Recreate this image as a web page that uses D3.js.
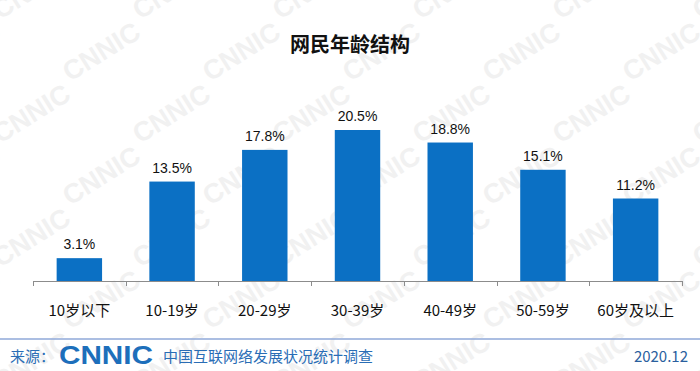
<!DOCTYPE html>
<html>
<head>
<meta charset="utf-8">
<script src="https://cdn.jsdelivr.net/npm/d3@7"></script>
<style>
  body { margin: 0; background: #fff; }
  svg { display: block; font-family: "Liberation Sans", Arial, "Noto Sans CJK SC", sans-serif; }
</style>
</head>
<body>
<div id="chart"></div>
<script>
// chart data
const categories = ["10岁以下", "10-19岁", "20-29岁", "30-39岁", "40-49岁", "50-59岁", "60岁及以上"];
const shares = [3.1, 13.5, 17.8, 20.5, 18.8, 15.1, 11.2];
const valueLabels = ["3.1%", "13.5%", "17.8%", "20.5%", "18.8%", "15.1%", "11.2%"];

const width = 700, height = 371;
const plot = {left: 33, right: 682, baseline: 281};

const svg = d3.select("#chart").append("svg")
    .attr("width", width)
    .attr("height", height);

svg.append("rect").attr("width", width).attr("height", height).attr("fill", "#fff");

// faint CNNIC watermark behind everything
const wm = svg.append("g").attr("fill", "#f1f1f1").attr("font-weight", "bold").attr("font-size", 27);
for (let row = -1; row < 7; row++) {
    for (let col = -1; col < 8; col++) {
        const x = col * 140 + (row % 2) * 70;
        const y = row * 62 + 20;
        wm.append("text")
            .attr("transform", `translate(${x},${y}) rotate(-32)`)
            .text("CNNIC");
    }
}

// x scale: bands
const x = d3.scaleBand()
    .domain(categories)
    .range([plot.left, plot.right])
    .paddingInner(0.51)
    .paddingOuter(0.255);

const y = d3.scaleLinear()
    .domain([0, 20.5])
    .range([plot.baseline, 130]);

// title
svg.append("text")
    .attr("x", 350)
    .attr("y", 52)
    .attr("text-anchor", "middle")
    .attr("font-size", 20)
    .attr("font-weight", "bold")
    .attr("fill", "#111")
    .attr("font-family", "'Noto Sans CJK SC', sans-serif")
    .text("网民年龄结构");

// bars
svg.selectAll("rect.bar")
    .data(shares)
    .enter()
    .append("rect")
    .attr("class", "bar")
    .attr("x", (d, i) => x(categories[i]))
    .attr("y", d => y(d))
    .attr("width", x.bandwidth())
    .attr("height", d => y(0) - y(d))
    .attr("fill", "#0b70c4");

// value labels
svg.selectAll("text.value")
    .data(shares)
    .enter()
    .append("text")
    .attr("class", "value")
    .attr("x", (d, i) => x(categories[i]) + x.bandwidth() / 2)
    .attr("y", d => y(d) - 9)
    .attr("text-anchor", "middle")
    .attr("font-size", 14)
    .attr("fill", "#111")
    .text((d, i) => valueLabels[i]);

// axis line with ticks at the band edges
const step = x.step();
const axis = svg.append("g").attr("stroke", "#8c8c8c").attr("stroke-width", 1);
axis.append("line")
    .attr("x1", plot.left).attr("x2", plot.right)
    .attr("y1", plot.baseline + 0.5).attr("y2", plot.baseline + 0.5);
d3.range(categories.length + 1).forEach(i => {
    const tx = Math.round(plot.left + i * step) + 0.5;
    axis.append("line")
        .attr("x1", tx).attr("x2", tx)
        .attr("y1", plot.baseline).attr("y2", plot.baseline + 5);
});

// category labels
svg.selectAll("text.cat")
    .data(categories)
    .enter()
    .append("text")
    .attr("class", "cat")
    .attr("x", d => x(d) + x.bandwidth() / 2)
    .attr("y", 316)
    .attr("text-anchor", "middle")
    .attr("font-size", 15)
    .attr("fill", "#111")
    .attr("font-family", "'Noto Sans CJK SC', sans-serif")
    .text(d => d);

// footer
svg.append("line")
    .attr("x1", 0).attr("x2", width)
    .attr("y1", 339).attr("y2", 339)
    .attr("stroke", "#8fa8d8")
    .attr("stroke-width", 1.5);

const footer = svg.append("g").attr("font-family", "'Noto Sans CJK SC', sans-serif");
footer.append("text")
    .attr("x", 10).attr("y", 362)
    .attr("font-size", 15)
    .attr("fill", "#2a6db5")
    .text("来源：");
footer.append("text")
    .attr("x", 59).attr("y", 364)
    .attr("font-size", 25)
    .attr("font-weight", 900)
    .attr("font-family", "'Liberation Sans', Arial, sans-serif")
    .attr("fill", "#1d6fbb")
    .attr("textLength", 94)
    .attr("lengthAdjust", "spacingAndGlyphs")
    .text("CNNIC");
footer.append("text")
    .attr("x", 163).attr("y", 362)
    .attr("font-size", 15)
    .attr("fill", "#2a6db5")
    .text("中国互联网络发展状况统计调查");
footer.append("text")
    .attr("x", 688).attr("y", 362)
    .attr("text-anchor", "end")
    .attr("font-size", 15)
    .attr("fill", "#2a5f9e")
    .text("2020.12");
</script>
</body>
</html>
